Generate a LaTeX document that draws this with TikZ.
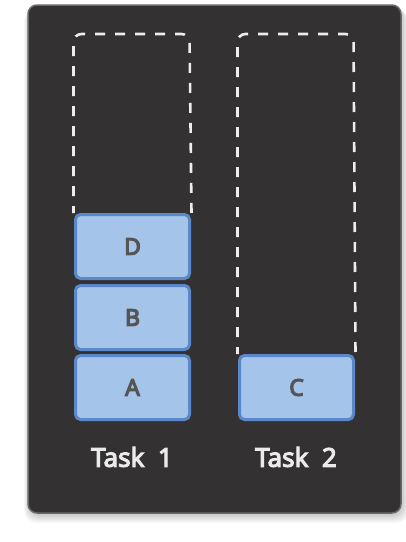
\documentclass[tikz,border=0pt]{standalone}
\usepackage{fontspec}
\usetikzlibrary{calc}
\newfontfamily\labfont[FakeBold=4]{Noto Sans}
\newfontfamily\blkfont[FakeBold=5]{Noto Sans}
\begin{document}
\begin{tikzpicture}[x=1pt,y=-1pt,
  panel/.style={fill=panelbg,draw=panelborder,line width=1.5pt,rounded corners=9pt},
  slot/.style={draw=white!93!black,line width=2.6pt,dash pattern=on 10pt off 10pt,dash phase=3pt,rounded corners=8pt},
  blk/.style={fill=blkfill,draw=blkborder,line width=3pt,rounded corners=5pt,minimum width=114pt,minimum height=64pt,inner sep=0pt,font=\blkfont\fontsize{23}{23}\selectfont,text=labgray},
  tasklab/.style={font=\labfont\fontsize{26}{26}\selectfont,text=white!92!black}]
\definecolor{panelbg}{HTML}{333131}
\definecolor{panelborder}{HTML}{6A6868}
\definecolor{blkfill}{HTML}{A5C4EA}
\definecolor{blkborder}{HTML}{5A88C8}
\definecolor{labgray}{HTML}{555555}
\useasboundingbox (0,0) rectangle (406,542);
\fill[white] (0,0) rectangle (406,542);
% soft shadow
\foreach \i in {1,...,10}{
  \fill[black,opacity=0.025,rounded corners=12pt] ($(28,5)+(-\i*0.6+2,\i*0.5)$) rectangle ($(401,513)+(\i*0.8,\i*1.0)$);
}
\path (28,5) coordinate (pnw) (401,513) coordinate (pse);
\draw[panel] (pnw) rectangle (pse);
% blocks
\node[blk] (A) at (132.5,387.5) {A};
\node[blk] (B) at (132.5,317.5) {B};
\node[blk] (D) at (132.5,246.5) {D};
\node[blk] (C) at (296.5,387.5) {C};
% dashed slots
\draw[slot] ([xshift=-0.5pt]D.north west) -- ++(0,-179) -- ++(116,0) -- ([xshift=0.5pt]D.north east);
\draw[slot] ([xshift=-0.5pt]C.north west) -- ++(0,-320) -- ++(116,0) -- ([xshift=0.5pt]C.north east);
% labels
\node[tasklab] (t1) at (132,457) {Task\ \ 1};
\node[tasklab] (t2) at (296,457) {Task\ \ 2};
\end{tikzpicture}
\end{document}
